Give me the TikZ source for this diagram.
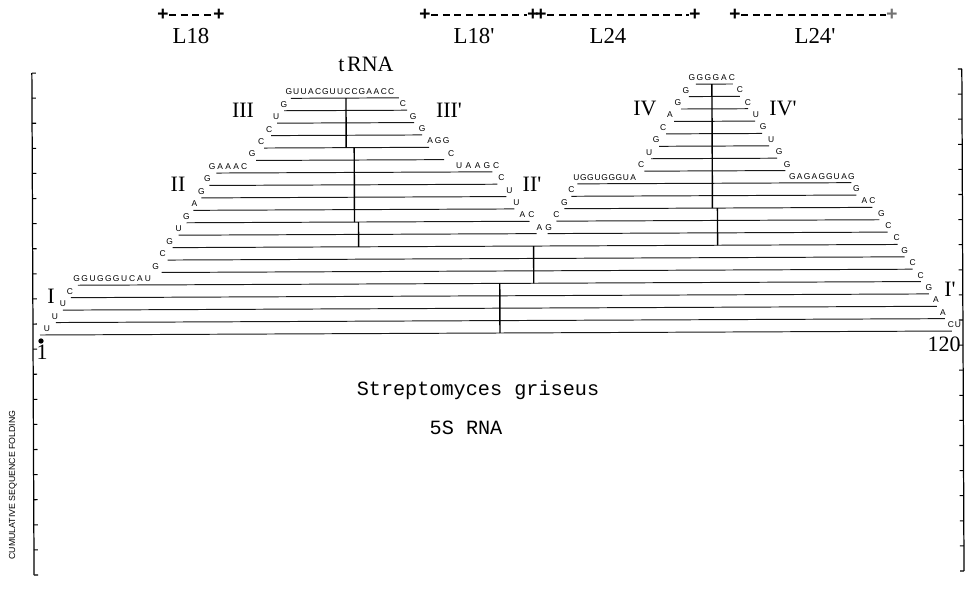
\documentclass[tikz,border=0pt]{standalone}
\usepackage{fontspec}
\setmainfont{Liberation Serif}
\setsansfont{Liberation Sans}
\setmonofont{Liberation Mono}
\usetikzlibrary{positioning}
\tikzset{
  pairline/.style  = {draw=black!90, line width=0.55pt},
  stemline/.style  = {draw=black, line width=0.8pt},
  axisline/.style  = {draw=black, line width=0.7pt},
  tickline/.style  = {draw=black, line width=0.6pt},
  base/.style      = {font=\sffamily\fontsize{4.8}{5}\selectfont, inner sep=0pt, anchor=base},
  helixlab/.style  = {font=\fontsize{12.5}{13}\selectfont, inner sep=0pt},
  seglab/.style    = {font=\fontsize{13}{13}\selectfont, inner sep=0pt},
  segmark/.style   = {font=\ttfamily\bfseries\fontsize{11}{11}\selectfont, inner sep=0pt},
  segdash/.style   = {draw=black, line width=0.8pt, dash pattern=on 4pt off 2.6pt},
  caption/.style   = {font=\ttfamily\fontsize{11.5}{12}\selectfont, inner sep=0pt},
  axislab/.style   = {font=\sffamily\fontsize{5}{5}\selectfont, inner sep=0pt, rotate=90},
}
% level k of the folding plot, in pixel units
\newcommand\yk[1]{(335-12.4*(#1))}
% bases written above a pair line end: level, first x, step, letters
\newcommand\bases[4]{%
  \foreach \c [count=\i from 0] in {#4}{%
    \node[base] (nt-#1-#2-\i) at ({#2+\i*#3},{\yk{#1}-3.5}) {\c};}}
\newcommand\pr{\textquotesingle}

\begin{document}
\begin{tikzpicture}[x=0.02cm, y=-0.02cm]
  \useasboundingbox (0,0) rectangle (966,602);
  \begin{scope}[rotate around={0.25:(40,335)}]
    % axes
    \draw[axisline] (33,73) -- (33,575);
    \draw[axisline] (963,73) -- (963,575);
    \foreach \t in {0,...,20}{%
      \draw[tickline] (33,{73+25.1*\t}) -- ++(4,0);
      \draw[tickline] (963,{73+25.1*\t}) -- ++(-4,0);}
    % pair lines: level / left end / right end
    \foreach \k/\xl/\xr in {0/40/952, 1/56/945, 2/63/937, 3/71/929, 4/78/921,
        5/162/913, 6/168/905, 7/173/898,
        8/179/537, 9/187/530, 10/194/515, 11/202/507, 12/210/498, 13/217/493,
        14/257/445, 15/265/430, 16/272/423, 17/278/415, 18/285/408, 19/292/400,
        8/548/888, 9/557/880, 10/565/873, 11/572/857, 12/578/852,
        13/645/786, 14/652/778, 15/660/770, 16/667/763, 17/675/756,
        18/682/749, 19/690/741, 20/697/734}{%
      \draw[pairline] (\xl,{\yk{\k}}) -- (\xr,{\yk{\k}});}
    % stems through the centres of the stacks
    \foreach \x/\ka/\kb in {500/0/4, 534/4/7, 359/7/9, 355/9/15, 347/15/19,
        718/7/10, 713/10/20}{%
      \draw[stemline] (\x,{\yk{\ka}}) -- (\x,{\yk{\kb}});}
    % bases, 5' side
    \bases{0}{47}{0}{U} \bases{1}{55}{0}{U} \bases{2}{63}{0}{U} \bases{3}{70}{0}{C}
    \bases{4}{77}{7.9}{G,G,U,G,G,G,U,C,A,U}
    \bases{5}{156}{0}{G} \bases{6}{163}{0}{C} \bases{7}{170}{0}{G}
    \bases{8}{179}{0}{U} \bases{9}{187}{0}{G} \bases{10}{195}{0}{A}
    \bases{11}{202}{0}{G} \bases{12}{208}{0}{G}
    \bases{13}{213}{8}{G,A,A,A,C}
    \bases{14}{253}{0}{G} \bases{15}{262}{0}{C} \bases{16}{270}{0}{C}
    \bases{17}{277}{0}{U} \bases{18}{285}{0}{G}
    \bases{19}{290}{7.3}{G,U,U,A,C,G,U,U,C,C,G,A,A,C,C}
    \bases{9}{523}{9}{A,C} \bases{10}{517}{0}{U} \bases{11}{510}{0}{U}
    \bases{12}{502}{0}{C}
    \bases{13}{460}{9.2}{U,A,A,G,C}
    \bases{14}{452}{0}{C} \bases{15}{431}{8}{A,G,G} \bases{16}{423}{0}{G}
    \bases{17}{414}{0}{G} \bases{18}{404}{0}{C}
    % bases, second domain
    \bases{8}{540}{9}{A,G} \bases{9}{557}{0}{C} \bases{10}{565}{0}{G}
    \bases{11}{572}{0}{C}
    \bases{12}{577}{7.1}{U,G,G,U,G,G,G,U,A}
    \bases{13}{642}{0}{C} \bases{14}{650}{0}{U} \bases{15}{657}{0}{G}
    \bases{16}{664}{0}{C} \bases{17}{671}{0}{A} \bases{18}{679}{0}{G}
    \bases{19}{687}{0}{G}
    \bases{20}{693}{8}{G,G,G,G,A,C}
    \bases{19}{741}{0}{C} \bases{18}{749}{0}{C} \bases{17}{757}{0}{U}
    \bases{16}{764}{0}{G} \bases{15}{772}{0}{U} \bases{14}{780}{0}{G}
    \bases{13}{788}{0}{G}
    \bases{12}{793}{7.4}{G,A,G,A,G,G,U,A,G}
    \bases{11}{857}{0}{G} \bases{10}{865}{8}{A,C} \bases{9}{882}{0}{G}
    \bases{8}{889}{0}{C}
    % bases, 3' side
    \bases{7}{897}{0}{C} \bases{6}{905}{0}{G} \bases{5}{913}{0}{C}
    \bases{4}{921}{0}{C} \bases{3}{929}{0}{G} \bases{2}{936}{0}{A}
    \bases{1}{943}{0}{A} \bases{0}{951}{7}{C,U}
  \end{scope}
  % sequence ends
  \node[circle, fill=black, inner sep=0pt, minimum size=3pt] (start) at (41,341) {};
  \node[helixlab] (n1) at (42,352) {1};
  \node[helixlab] (n120) at (944,344) {120};
  % helix labels
  \node[helixlab] (hI)    at (51,296)  {I};
  \node[helixlab] (hIp)   at (950,289) {I\pr};
  \node[helixlab] (hII)   at (178,184) {II};
  \node[helixlab] (hIIp)  at (532,184) {II\pr};
  \node[helixlab] (hIII)  at (243,110) {III};
  \node[helixlab] (hIIIp) at (449,110) {III\pr};
  \node[helixlab] (hIV)   at (645,108) {IV};
  \node[helixlab] (hIVp)  at (783,108) {IV\pr};
  \node[helixlab] (trna)  at (366,64)  {t\kern1.5pt RNA};
  % segments on top
  \node[segmark] (s1a) at (163,15) {+};
  \node[segmark] (s1b) at (219,15) {+};
  \node[segmark] (s2a) at (425,15) {+};
  \node[segmark] (s2b) at (533,15) {+};
  \node[segmark] (s3a) at (541,15) {+};
  \node[segmark] (s3b) at (695,15) {+};
  \node[segmark] (s4a) at (735,15) {+};
  \node[segmark, text=black!55] (s4b) at (892,15) {+};
  \draw[segdash] (s1a) -- (s1b);
  \draw[segdash] (s2a) -- (s2b);
  \draw[segdash] (s3a) -- (s3b);
  \draw[segdash] (s4a) -- (s4b);
  \node[seglab] (L18)  at (191,36) {L18};
  \node[seglab] (L18p) at (474,36) {L18\pr};
  \node[seglab] (L24)  at (608,36) {L24};
  \node[seglab] (L24p) at (815,36) {L24\pr};
  % captions
  \node[caption] (species) at (478,390) {Streptomyces griseus};
  \node[caption] (rna) at (466,428) {5S RNA};
  \node[axislab] (ylab) at (13,485) {CUMULATIVE SEQUENCE FOLDING};
\end{tikzpicture}
\end{document}
